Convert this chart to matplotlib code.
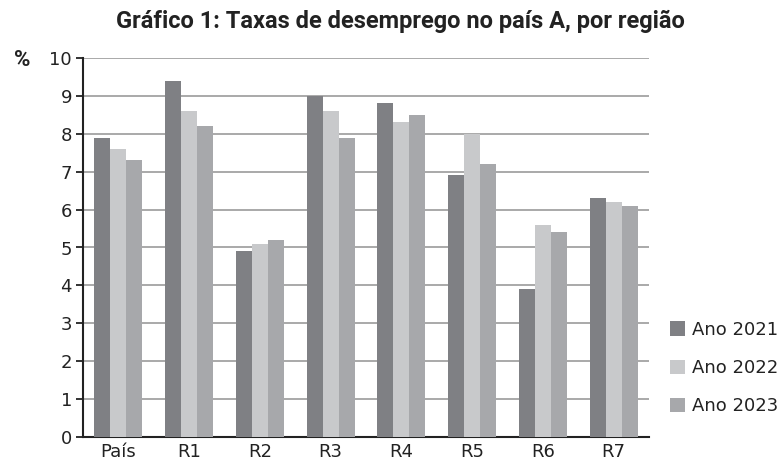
import matplotlib
matplotlib.use("Agg")
import matplotlib.pyplot as plt
import numpy as np

regioes = ["País", "R1", "R2", "R3", "R4", "R5", "R6", "R7"]
anos = ["Ano 2021", "Ano 2022", "Ano 2023"]
taxa_2021 = [7.9, 9.4, 4.9, 9.0, 8.8, 6.9, 3.9, 6.3]
taxa_2022 = [7.6, 8.6, 5.1, 8.6, 8.3, 8.0, 5.6, 6.2]
taxa_2023 = [7.3, 8.2, 5.2, 7.9, 8.5, 7.2, 5.4, 6.1]
cores = ["#7f8084", "#c8c9cb", "#a7a8ab"]

plt.rcParams["font.family"] = ["DejaVu Sans"]

fig = plt.figure(figsize=(7.83, 4.61), dpi=100)
ax = fig.add_axes([83 / 783, 24 / 461, 566 / 783, 379 / 461])

x = np.arange(len(regioes))
largura = 0.225
for i, (serie, cor, nome) in enumerate(zip([taxa_2021, taxa_2022, taxa_2023], cores, anos)):
    ax.bar(x + (i - 1) * largura, serie, largura, color=cor, label=nome, zorder=3)

ax.set_xlim(-0.5, len(regioes) - 0.5)
ax.set_ylim(0, 10)
ax.set_yticks(range(0, 11))
ax.set_xticks(x)
ax.set_xticklabels(regioes)
ax.yaxis.grid(True, color="#a9a9a9", linewidth=1.4, zorder=0)
ax.tick_params(axis="x", length=0, labelsize=13, pad=4, colors="#222222")
ax.tick_params(axis="y", length=5, width=1.3, labelsize=13, pad=3, colors="#222222")
for s in ["top", "right"]:
    ax.spines[s].set_visible(False)
for s in ["left", "bottom"]:
    ax.spines[s].set_color("#222222")
    ax.spines[s].set_linewidth(1.5)

fig.text(400 / 783, 1 - 21 / 461, "Gráfico 1: Taxas de desemprego no país A, por região",
         ha="center", va="center", fontsize=17, fontweight="bold",
         family="Roboto", color="#222222")
fig.text(22 / 783, 1 - 60 / 461, "%", ha="center", va="center",
         fontsize=16, fontweight="bold", family="Roboto", color="#222222")

leg = ax.legend(loc="center left", bbox_to_anchor=(1 + 21 / 566, 1 - (368 - 58) / 379),
                frameon=False, fontsize=13, handlelength=0.85, handleheight=0.85,
                handletextpad=0.35, labelspacing=1.13, borderaxespad=0.0,
                borderpad=0.0)
for t in leg.get_texts():
    t.set_color("#222222")

fig.savefig("out.png", dpi=100)
